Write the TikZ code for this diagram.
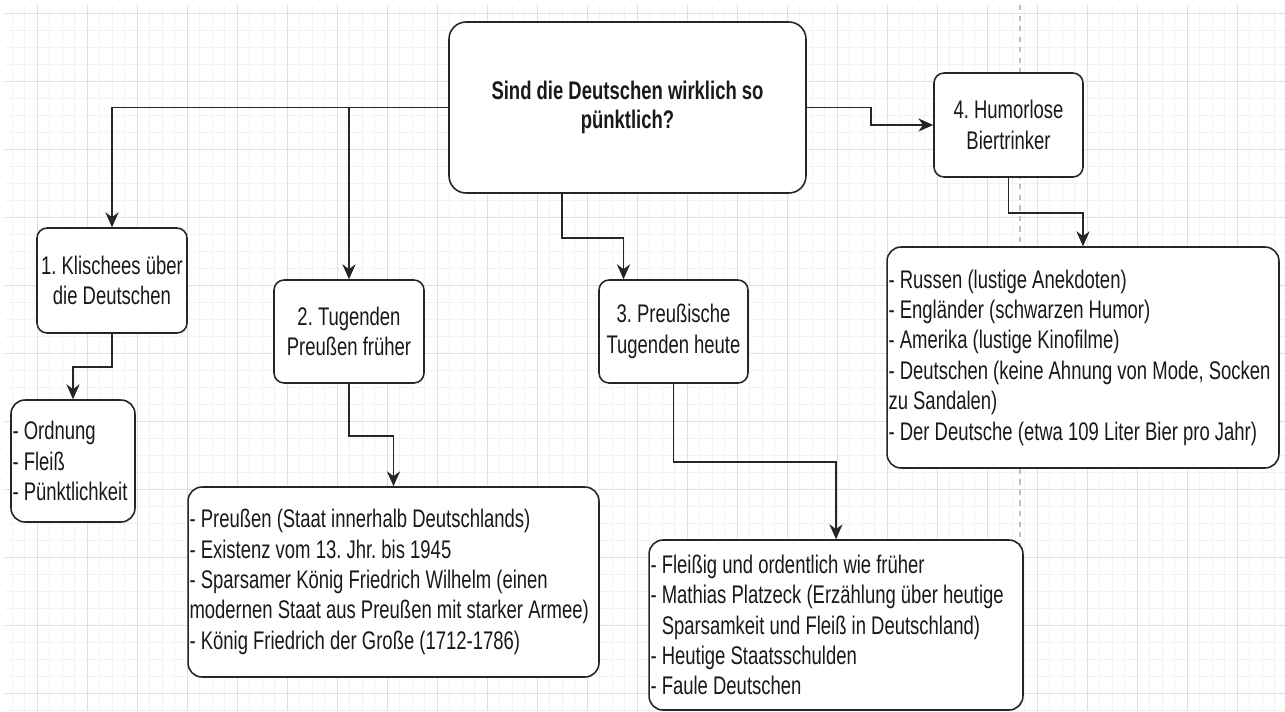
\documentclass[tikz,border=0pt]{standalone}
\usepackage{fontspec}
\setmainfont{Liberation Sans}[FakeStretch=0.725]
\usetikzlibrary{arrows.meta}
\frenchspacing

\tikzset{
	box/.style = {draw=black!85, line width=0.9pt, fill=white, rounded corners=0.2cm, inner xsep=0.03cm, inner ysep=0pt, text=black!90, align=center, font=\fontsize{14.5pt}{17.3pt}\selectfont},
	liste/.style = {box, rounded corners=0.28cm, align=flush left},
	pfeil/.style = {draw=black!85, line width=0.9pt, -{Stealth[length=8.5pt,width=7.5pt]}}
}

\begin{document}
\begin{tikzpicture}[x=0.02cm, y=-0.02cm]
		\useasboundingbox (0,0) rectangle (1285,711);
		\fill[white] (0,0) rectangle (1285,711);
		\begin{scope}
		\clip (5,5) rectangle (1285,711);
		\foreach \x in {12,24.5,...,1285} \draw[gray!10, line width=0.4pt] (\x,5) -- (\x,711);
		\foreach \y in {13,30,...,711} \draw[gray!10, line width=0.4pt] (5,\y) -- (1285,\y);
		\foreach \x in {37,87,...,1285} \draw[gray!25, line width=0.4pt] (\x,5) -- (\x,711);
		\foreach \y in {13,81,...,711} \draw[gray!25, line width=0.4pt] (5,\y) -- (1285,\y);
		\draw[gray!50, dashed, line width=0.6pt] (1020,5) -- (1020,711);
		\end{scope}

		\node[box, minimum width=7.14cm, minimum height=3.42cm, rounded corners=0.34cm, font=\fontsize{14.5pt}{16.4pt}\selectfont\bfseries] (frage) at (627.5,107.5) {Sind die Deutschen wirklich so\\pünktlich?};
		\node[box, minimum width=3cm, minimum height=2.1cm] (klischees) at (112,280.5) {1. Klischees über\\die Deutschen};
		\node[box, minimum width=3cm, minimum height=2.06cm] (frueher) at (349,331.5) {2. Tugenden\\Preußen früher};
		\node[box, minimum width=2.98cm, minimum height=2.06cm] (heute) at (673.5,331.5) {3. Preußische\\Tugenden heute};
		\node[box, minimum width=2.98cm, minimum height=2.08cm] (humor) at (1008.5,125) {4. Humorlose\\Biertrinker};

		\node[liste, text width=2.42cm, minimum height=2.44cm] (werte) at (73,461) {- Ordnung\\- Fleiß\\- Pünktlichkeit};
		\node[liste, text width=8.16cm, minimum height=3.8cm] (preussen) at (393.5,582) {- Preußen (Staat innerhalb Deutschlands)\\- Existenz vom 13. Jhr. bis 1945\\- Sparsamer König Friedrich Wilhelm (einen\\modernen Staat aus Preußen mit starker Armee)\\- König Friedrich der Große (1712-1786)};
		\node[liste, text width=7.42cm, minimum height=3.4cm] (gegenwart) at (836,625) {- Fleißig und ordentlich wie früher\\- Mathias Platzeck (Erzählung über heutige\\\hphantom{- }Sparsamkeit und Fleiß in Deutschland)\\- Heutige Staatsschulden\\- Faule Deutschen};
		\node[liste, text width=7.78cm, minimum height=4.42cm] (spott) at (1083,357.5) {- Russen (lustige Anekdoten)\\- Engländer (schwarzen Humor)\\- Amerika (lustige Kinofilme)\\- Deutschen (keine Ahnung von Mode, Socken\\zu Sandalen)\\- Der Deutsche (etwa 109 Liter Bier pro Jahr)};

		\draw[pfeil] (frage.west) -| (klischees.north);
		\draw[pfeil] (frage.west) -| (frueher.north);
		\draw[pfeil] ([xshift=-1.31cm]frage.south) -- ++(0,44) -| ([xshift=-1cm]heute.north);
		\draw[pfeil] (frage.east) -- ++(64,0) |- (humor.west);
		\draw[pfeil] (klischees.south) -- ++(0,33) -| (werte.north);
		\draw[pfeil] (frueher.south) -- ++(0,52) -| (preussen.north);
		\draw[pfeil] (heute.south) -- ++(0,78) -| (gegenwart.north);
		\draw[pfeil] (humor.south) -- ++(0,35) -| (spott.north);
\end{tikzpicture}
\end{document}
